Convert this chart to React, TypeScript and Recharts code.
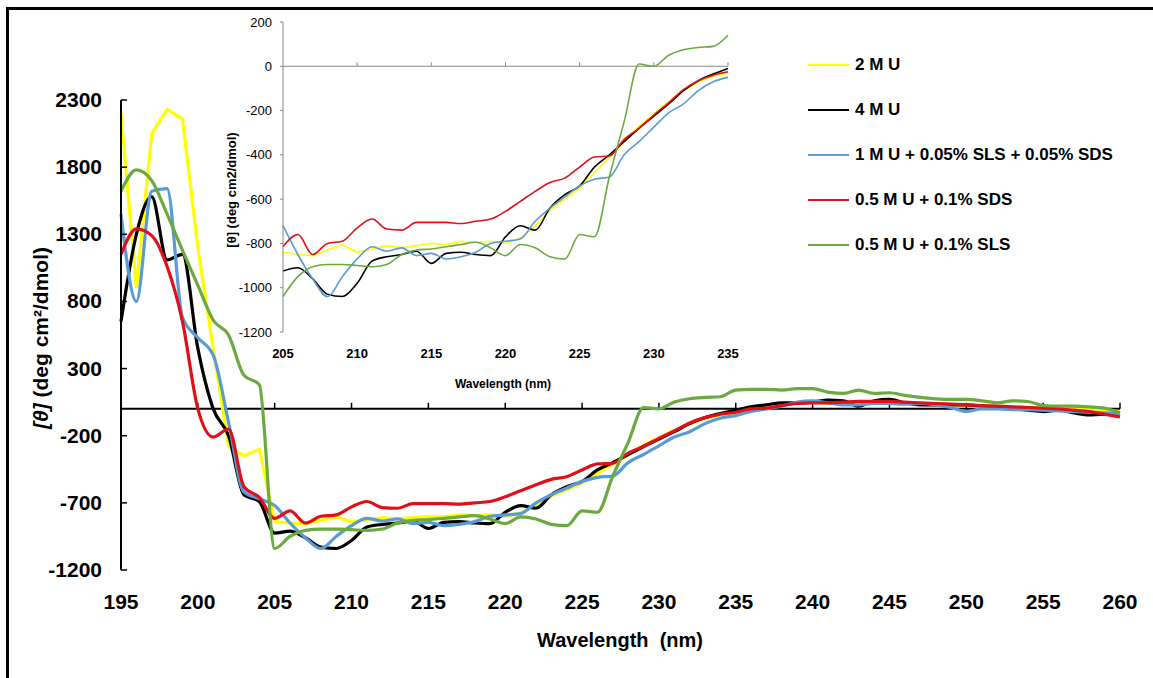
import { LineChart, Line, XAxis, YAxis, ReferenceLine } from 'recharts';

const FONT = '"Liberation Sans", Arial, sans-serif';

// wavelength (nm), 1 nm steps
const wavelength = [
  195, 196, 197, 198, 199, 200, 201, 202, 203, 204, 205,
  206, 207, 208, 209, 210, 211, 212, 213, 214, 215, 216,
  217, 218, 219, 220, 221, 222, 223, 224, 225, 226, 227,
  228, 229, 230, 231, 232, 233, 234, 235, 236, 237, 238,
  239, 240, 241, 242, 243, 244, 245, 246, 247, 248, 249,
  250, 251, 252, 253, 254, 255, 256, 257, 258, 259, 260,
];

// [θ] values (deg cm2/dmol)
const mu2 = [
  2200, 900, 2050, 2230, 2160, 1200, 450, -280, -350, -300, -840,
  -850, -855, -830, -805, -840, -825, -810, -820, -810, -800, -805,
  -790, -795, -790, -800, -775, -720, -650, -600, -550, -480, -410,
  -340, -270, -215, -160, -110, -70, -45, -30, 10, 30, 40,
  45, 50, 45, 40, 45, 40, 40, 35, 40, 30, 25,
  30, 20, 20, 15, 10, 5, 0, 0, 0, -10, -20,
];

const mu4 = [
  650, 1300, 1580, 1110, 1150, 450, 0, -200, -640, -690, -925,
  -910, -960, -1030, -1040, -980, -880, -860, -850, -835, -890, -845,
  -840, -850, -855, -770, -720, -740, -640, -580, -540, -455, -400,
  -340, -280, -225, -170, -110, -65, -35, -10, 15, 30, 45,
  45, 50, 65, 60, 20, 60, 70, 45, 30, 30, 30,
  30, 20, 10, 0, -10, -20, -10, -30, -45, -40, -30,
];

const mixSlsSds = [
  1450, 800, 1620, 1640, 680, 530, 400, -100, -620, -670, -720,
  -850, -960, -1040, -950, -870, -815, -835, -820, -855, -845, -870,
  -860, -840, -800, -790, -780, -700, -640, -590, -540, -510, -500,
  -400, -340, -275, -210, -170, -110, -70, -50, -20, 0, 20,
  50, 60, 45, 30, 30, 40, 40, 35, 40, 30, 10,
  -20, 0, 0, -5, -5, -10, -15, -20, -25, -30, -35,
];

const sds = [
  1150, 1340, 1290, 1060, 650, 0, -210, -150, -580, -660, -815,
  -760, -850, -800, -790, -730, -690, -735, -740, -705, -705, -705,
  -710, -700, -690, -655, -610, -565, -525, -505, -455, -410, -405,
  -330, -280, -220, -165, -105, -65, -40, -25, 0, 5, 25,
  40, 45, 45, 50, 55, 55, 55, 50, 45, 40, 35,
  30, 25, 20, 15, 10, 5, 0, -10, -20, -40, -60,
];

const sls = [
  1620, 1780, 1700, 1450, 1180, 920, 660, 550, 250, 180, -1040,
  -950, -905, -895, -895, -900, -905, -895, -850, -830, -825, -815,
  -805, -795, -820, -855, -805, -820, -860, -870, -760, -770, -500,
  -250, 10, 0, 50, 75, 85, 90, 140, 145, 145, 140,
  150, 150, 125, 115, 140, 115, 120, 100, 85, 75, 70,
  70, 60, 45, 60, 55, 25, 20, 20, 15, 5, -30,
];

const mainXTicks = [195, 200, 205, 210, 215, 220, 225, 230, 235, 240, 245, 250, 255, 260];
const mainYTicks = [-1200, -700, -200, 300, 800, 1300, 1800, 2300];
const insetXTicks = [205, 210, 215, 220, 225, 230, 235];
const insetYTicks = [-1200, -1000, -800, -600, -400, -200, 0, 200];

const series = [
  { key: 'mu2', name: '2 M U', color: '#FFFF00', curve: 'linear' },
  { key: 'mu4', name: '4 M U', color: '#000000', curve: 'monotone' },
  { key: 'mix', name: '1 M U + 0.05% SLS + 0.05% SDS', color: '#5B9BD5', curve: 'monotone' },
  { key: 'sds', name: '0.5 M U + 0.1% SDS', color: '#E0101A', curve: 'monotone' },
  { key: 'sls', name: '0.5 M U + 0.1% SLS', color: '#6AAA3E', curve: 'monotone' },
];

const rows = wavelength.map((w, i) => ({
  w,
  mu2: mu2[i],
  mu4: mu4[i],
  mix: mixSlsSds[i],
  sds: sds[i],
  sls: sls[i],
}));

const insetRows = rows.filter((r) => r.w >= 205 && r.w <= 235);

const MainXTick = (props: any) => {
  const { x, y, payload } = props;
  return (
    <text x={x} y={y + 39} textAnchor="middle" fontSize={21} fontWeight="bold" fontFamily={FONT} fill="#000">
      {payload.value}
    </text>
  );
};

const MainYTick = (props: any) => {
  const { x, y, payload } = props;
  return (
    <g>
      <line x1={x} x2={x + 6} y1={y} y2={y} stroke="#000" strokeWidth={1.5} />
      <text x={x - 19} y={y + 7} textAnchor="end" fontSize={21} fontWeight="bold" fontFamily={FONT} fill="#000">
        {payload.value}
      </text>
    </g>
  );
};

const InsetXTick = (props: any) => {
  const { x, y, payload } = props;
  return (
    <text x={x} y={y + 26} textAnchor="middle" fontSize={13} fontWeight="bold" fontFamily={FONT} fill="#000">
      {payload.value}
    </text>
  );
};

export default function App() {
  return (
    <div style={{ position: 'absolute', left: 0, top: 0, width: 1153, height: 678, background: '#fff', overflow: 'hidden' }}>
      <div
        style={{
          position: 'absolute',
          left: 6,
          top: 7,
          width: 1400,
          height: 900,
          borderTop: '3px solid #000',
          borderLeft: '3px solid #000',
        }}
      />

      {/* main chart */}
      <div style={{ position: 'absolute', left: 0, top: 0 }}>
        <LineChart width={1153} height={678} data={rows} margin={{ top: 100, right: 33, bottom: 38, left: 0 }}>
          <XAxis
            dataKey="w"
            type="number"
            domain={[195, 260]}
            ticks={mainXTicks}
            interval={0}
            axisLine={false}
            tickLine={false}
            tickSize={0}
            tickMargin={0}
            height={70}
            tick={<MainXTick />}
          />
          <YAxis
            type="number"
            domain={[-1200, 2300]}
            ticks={mainYTicks}
            interval={0}
            width={121}
            axisLine={{ stroke: '#000', strokeWidth: 2 }}
            tickLine={false}
            tickSize={0}
            tickMargin={0}
            tick={<MainYTick />}
          />
          <ReferenceLine y={0} stroke="#000" strokeWidth={2} />
          {mainXTicks.map((t) => (
            <ReferenceLine key={t} segment={[{ x: t, y: 0 }, { x: t, y: 45 }]} stroke="#000" strokeWidth={1.5} />
          ))}
          {series.map((s) => (
            <Line
              key={s.key}
              type={s.curve as any}
              dataKey={s.key}
              stroke={s.color}
              strokeWidth={3.2}
              dot={false}
              isAnimationActive={false}
            />
          ))}
        </LineChart>
      </div>

      {/* inset */}
      <div style={{ position: 'absolute', left: 180, top: 0 }}>
        <LineChart width={600} height={400} data={insetRows} margin={{ top: 22, right: 52, bottom: 38, left: 0 }}>
          <XAxis
            dataKey="w"
            type="number"
            domain={[205, 235]}
            ticks={insetXTicks}
            interval={0}
            axisLine={false}
            tickLine={false}
            tickSize={0}
            tickMargin={0}
            height={30}
            tick={<InsetXTick />}
          />
          <YAxis
            type="number"
            domain={[-1200, 200]}
            ticks={insetYTicks}
            interval={0}
            width={103}
            axisLine={{ stroke: '#888' }}
            tickLine={{ stroke: '#888' }}
            tickSize={3}
            tickMargin={8}
            tick={{ fontSize: 13, fill: '#000', fontFamily: FONT }}
          />
          <ReferenceLine y={0} stroke="#888" strokeWidth={1} />
          {insetXTicks.slice(1).map((t) => (
            <ReferenceLine key={t} segment={[{ x: t, y: 0 }, { x: t, y: 18 }]} stroke="#888" strokeWidth={1} />
          ))}
          {series.map((s) => (
            <Line
              key={s.key}
              type={s.curve as any}
              dataKey={s.key}
              stroke={s.color}
              strokeWidth={1.6}
              dot={false}
              isAnimationActive={false}
            />
          ))}
        </LineChart>
      </div>

      {/* axis titles */}
      <svg width={1153} height={678} style={{ position: 'absolute', left: 0, top: 0, pointerEvents: 'none' }}>
        <text x={620} y={647} textAnchor="middle" fontSize={20} fontWeight="bold" fontFamily={FONT} fill="#000">
          Wavelength{'\u00a0\u00a0'}(nm)
        </text>
        <text
          x={48}
          y={338}
          transform="rotate(-90 48 338)"
          textAnchor="middle"
          fontSize={21}
          fontWeight="bold"
          fontFamily={FONT}
          fill="#000"
        >
          <tspan fontStyle="italic">[θ]</tspan> (deg cm²/dmol)
        </text>
        <text x={503} y={388} textAnchor="middle" fontSize={12} fontWeight="bold" fontFamily={FONT} fill="#000">
          Wavelength (nm)
        </text>
        <text
          x={236}
          y={190}
          transform="rotate(-90 236 190)"
          textAnchor="middle"
          fontSize={13}
          fontWeight="bold"
          fontFamily={FONT}
          fill="#000"
        >
          [θ] (deg cm2/dmol)
        </text>
      </svg>

      {/* legend */}
      {series.map((s, i) => (
        <div
          key={s.key}
          style={{
            position: 'absolute',
            left: 808,
            top: 65 + i * 45 - 11,
            height: 22,
            display: 'flex',
            alignItems: 'center',
            fontFamily: FONT,
            fontSize: 17,
            fontWeight: 'bold',
            whiteSpace: 'nowrap',
          }}
        >
          <svg width={41} height={4} style={{ marginRight: 6 }}>
            <line x1={0} x2={41} y1={2} y2={2} stroke={s.color} strokeWidth={2} />
          </svg>
          <span>{s.name}</span>
        </div>
      ))}
    </div>
  );
}
